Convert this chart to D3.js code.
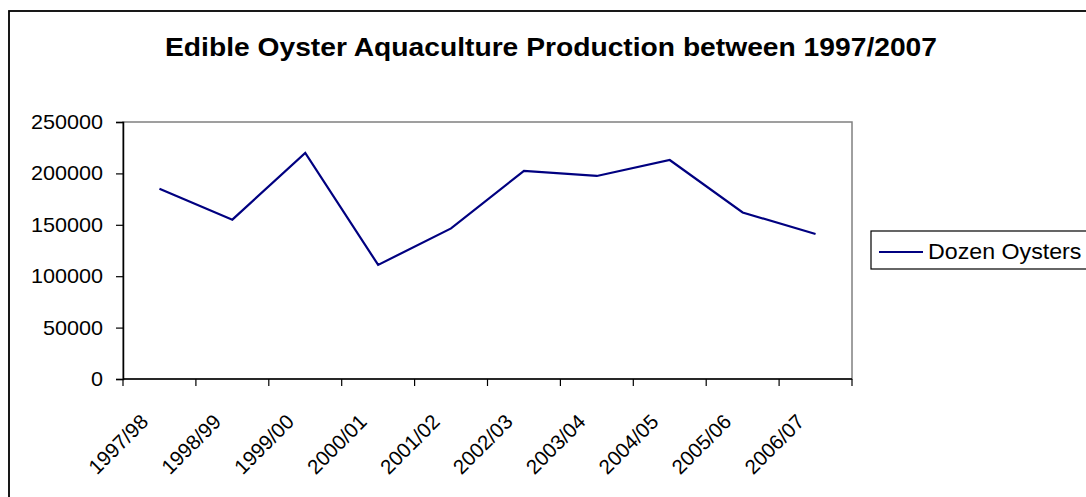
<!DOCTYPE html>
<html>
<head>
<meta charset="utf-8">
<script src="https://cdn.jsdelivr.net/npm/d3@7"></script>
<style>
  html, body { margin: 0; padding: 0; background: #fff; }
  svg { display: block; font-family: "Liberation Sans", Arial, sans-serif; }
</style>
</head>
<body>
<svg id="chart" width="1086" height="497"></svg>
<script>
// Seasons on the category axis
const seasons = ["1997/98", "1998/99", "1999/00", "2000/01", "2001/02",
                 "2002/03", "2003/04", "2004/05", "2005/06", "2006/07"];
// Production, dozen oysters per season
const dozenOysters = [185000, 155000, 220000, 111000, 146500,
                      202500, 197500, 213000, 162000, 141000];
// Value-axis ticks
const yTicks = [0, 50000, 100000, 150000, 200000, 250000];
const seriesName = "Dozen Oysters";
const titleText = "Edible Oyster Aquaculture Production between 1997/2007";

// Text in this chart is set slightly wide
const WIDE = 1.08;

const svg = d3.select("#chart");

// Chart frame
svg.append("rect")
  .attr("x", 9).attr("y", 11)
  .attr("width", 1100).attr("height", 500)
  .attr("fill", "#fff").attr("stroke", "#000").attr("stroke-width", 1.8);

// Title
svg.append("text")
  .attr("x", 165).attr("y", 56)
  .attr("font-size", 26.5).attr("font-weight", "bold")
  .attr("textLength", 772).attr("lengthAdjust", "spacingAndGlyphs")
  .attr("fill", "#000")
  .text(titleText);

const plot = { left: 123, top: 122, right: 852, bottom: 379 };

const x = d3.scaleBand().domain(seasons).range([plot.left, plot.right]);
const y = d3.scaleLinear().domain([0, 250000]).range([plot.bottom, plot.top]);

// Plot area outline (gray top/right)
svg.append("rect")
  .attr("x", plot.left).attr("y", plot.top)
  .attr("width", plot.right - plot.left).attr("height", plot.bottom - plot.top)
  .attr("fill", "#fff").attr("stroke", "#808080").attr("stroke-width", 1.5);

// Value axis
const yAxis = svg.append("g")
  .attr("transform", `translate(${plot.left},0)`)
  .call(d3.axisLeft(y).tickValues(yTicks).tickSize(7).tickPadding(13)
        .tickFormat(d3.format("d")));
yAxis.select(".domain").attr("stroke", "#000").attr("stroke-width", 1.5);
yAxis.selectAll(".tick line").attr("stroke", "#000").attr("stroke-width", 1.2);
yAxis.selectAll(".tick text")
  .attr("x", 0)
  .attr("transform", `translate(-20,0) scale(${WIDE},1)`)
  .attr("font-size", 20).attr("fill", "#000")
  .attr("font-family", "Liberation Sans, Arial, sans-serif");

// Category axis: ticks at category boundaries
const boundaries = seasons.map(s => x(s)).concat([plot.right]);
const xAxisG = svg.append("g");
xAxisG.append("line")
  .attr("x1", plot.left).attr("x2", plot.right)
  .attr("y1", plot.bottom).attr("y2", plot.bottom)
  .attr("stroke", "#000").attr("stroke-width", 1.5);
xAxisG.selectAll("line.tk").data(boundaries).join("line")
  .attr("class", "tk")
  .attr("x1", d => d).attr("x2", d => d)
  .attr("y1", plot.bottom).attr("y2", plot.bottom + 7)
  .attr("stroke", "#000").attr("stroke-width", 1.2);
xAxisG.selectAll("text").data(seasons).join("text")
  .attr("transform", d => `translate(${x(d) + x.bandwidth() / 2 - 10},${plot.bottom + 44}) rotate(-45)`)
  .attr("text-anchor", "end")
  .attr("font-size", 20.5).attr("fill", "#000")
  .text(d => d);

// Series line
const line = d3.line()
  .x((d, i) => x(seasons[i]) + x.bandwidth() / 2)
  .y(d => y(d));
svg.append("path")
  .datum(dozenOysters)
  .attr("d", line)
  .attr("fill", "none")
  .attr("stroke", "#000080")
  .attr("stroke-width", 2.2)
  .attr("stroke-linejoin", "miter");

// Legend
const lg = svg.append("g");
lg.append("rect")
  .attr("x", 871).attr("y", 231)
  .attr("width", 240).attr("height", 38)
  .attr("fill", "#fff").attr("stroke", "#000").attr("stroke-width", 1.2);
lg.append("line")
  .attr("x1", 879).attr("x2", 923)
  .attr("y1", 252).attr("y2", 252)
  .attr("stroke", "#000080").attr("stroke-width", 2);
lg.append("text")
  .attr("transform", `translate(928,259) scale(${WIDE},1)`)
  .attr("font-size", 21.5).attr("fill", "#000")
  .text(seriesName);
</script>
</body>
</html>
